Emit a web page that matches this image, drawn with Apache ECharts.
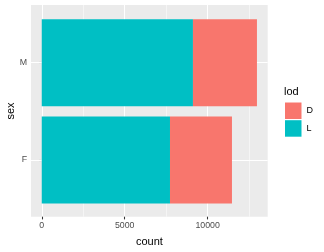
<!DOCTYPE html>
<html><head><meta charset="utf-8">
<script src="https://cdn.jsdelivr.net/npm/echarts@6/dist/echarts.min.js"></script>
<style>html,body{margin:0;padding:0;background:#fff}#c{width:324px;height:252px}</style>
</head><body><div id="c"></div>
<script>
const categories = ['F', 'M'];
const valuesL = [7730, 9114];
const valuesD = [3736, 3858];
const xTicks = [0, 5000, 10000];
const xMinorTicks = [2500, 7500, 12500];
const legendItems = ['D', 'L'];
const xTitle = 'count';
const yTitle = 'sex';
const legendTitle = 'lod';

const FONT = '"Liberation Sans", Arial, sans-serif';
const xMin = -648, xMax = 13620;
const chart = echarts.init(document.getElementById('c'), null, {renderer: 'canvas'});
const hideAxis = {axisLine: {show: false}, axisTick: {show: false}, axisLabel: {show: false}, splitLine: {show: false}};
chart.setOption({
  animation: false,
  textStyle: {fontFamily: FONT},
  grid: [
    {left: 31, top: 5, width: 236.7, height: 211.7, show: true, backgroundColor: '#EBEBEB', borderWidth: 0, containLabel: false, outerBoundsMode: 'none'},
    {left: 31, top: 14.05, width: 236.7, height: 194.6, show: false, containLabel: false, outerBoundsMode: 'none'}
  ],
  legend: {
    data: legendItems, orient: 'vertical', left: 285, top: 102.5,
    itemWidth: 16.5, itemHeight: 16.5, itemGap: 1.2, icon: 'rect',
    textStyle: {fontSize: 9, color: '#000', fontFamily: FONT},
    padding: 0, selectedMode: false
  },
  graphic: [
    {type: 'text', left: 284, top: 86, style: {text: legendTitle, fontSize: 11, fill: '#000', fontFamily: FONT}},
    {type: 'text', x: 10.5, y: 111, rotation: Math.PI / 2,
     style: {text: yTitle, fontSize: 11, fill: '#000', fontFamily: FONT, align: 'center', verticalAlign: 'middle'}}
  ],
  xAxis: [
    {type: 'value', gridIndex: 0, min: xMin, max: xMax,
     name: xTitle, nameLocation: 'middle', nameGap: 20,
     nameTextStyle: {fontSize: 11, color: '#000', fontFamily: FONT},
     axisLine: {show: false},
     axisTick: {show: true, length: 2.7, customValues: xTicks, lineStyle: {color: '#333', width: 1.07}},
     axisLabel: {show: true, customValues: xTicks, fontSize: 8.8, color: '#4D4D4D', margin: 4, fontFamily: FONT, formatter: v => String(v)},
     splitLine: {show: true, lineStyle: {color: '#fff', width: 1.07}}},
    {type: 'value', gridIndex: 0, min: xMin, max: xMax, position: 'bottom',
     axisLine: {show: false}, axisTick: {show: false, customValues: xMinorTicks},
     axisLabel: {show: false, customValues: xMinorTicks},
     splitLine: {show: true, lineStyle: {color: '#fff', width: 0.53}}},
    Object.assign({type: 'value', gridIndex: 1, min: xMin, max: xMax}, hideAxis)
  ],
  yAxis: [
    Object.assign({type: 'value', gridIndex: 0, min: 0, max: 1}, hideAxis),
    {type: 'category', gridIndex: 1, data: categories,
     axisLine: {show: false},
     axisTick: {show: true, alignWithLabel: true, length: 2.7, lineStyle: {color: '#333', width: 1.07}},
     axisLabel: {fontSize: 8.8, color: '#4D4D4D', margin: 4, fontFamily: FONT},
     splitLine: {show: false}}
  ],
  series: [
    {name: 'grid', type: 'line', xAxisIndex: 2, yAxisIndex: 1, data: [], z: 1, silent: true,
     markLine: {silent: true, symbol: 'none', label: {show: false}, animation: false, z: 1,
       lineStyle: {color: '#fff', type: 'solid', width: 1.07},
       data: categories.map(c => ({yAxis: c}))}},
    {name: 'L', type: 'bar', stack: 'a', xAxisIndex: 2, yAxisIndex: 1, data: valuesL,
     barWidth: '89.5%', itemStyle: {color: '#00BFC4'}, z: 3},
    {name: 'D', type: 'bar', stack: 'a', xAxisIndex: 2, yAxisIndex: 1, data: valuesD,
     barWidth: '89.5%', itemStyle: {color: '#F8766D'}, z: 3}
  ]
});
</script></body></html>
